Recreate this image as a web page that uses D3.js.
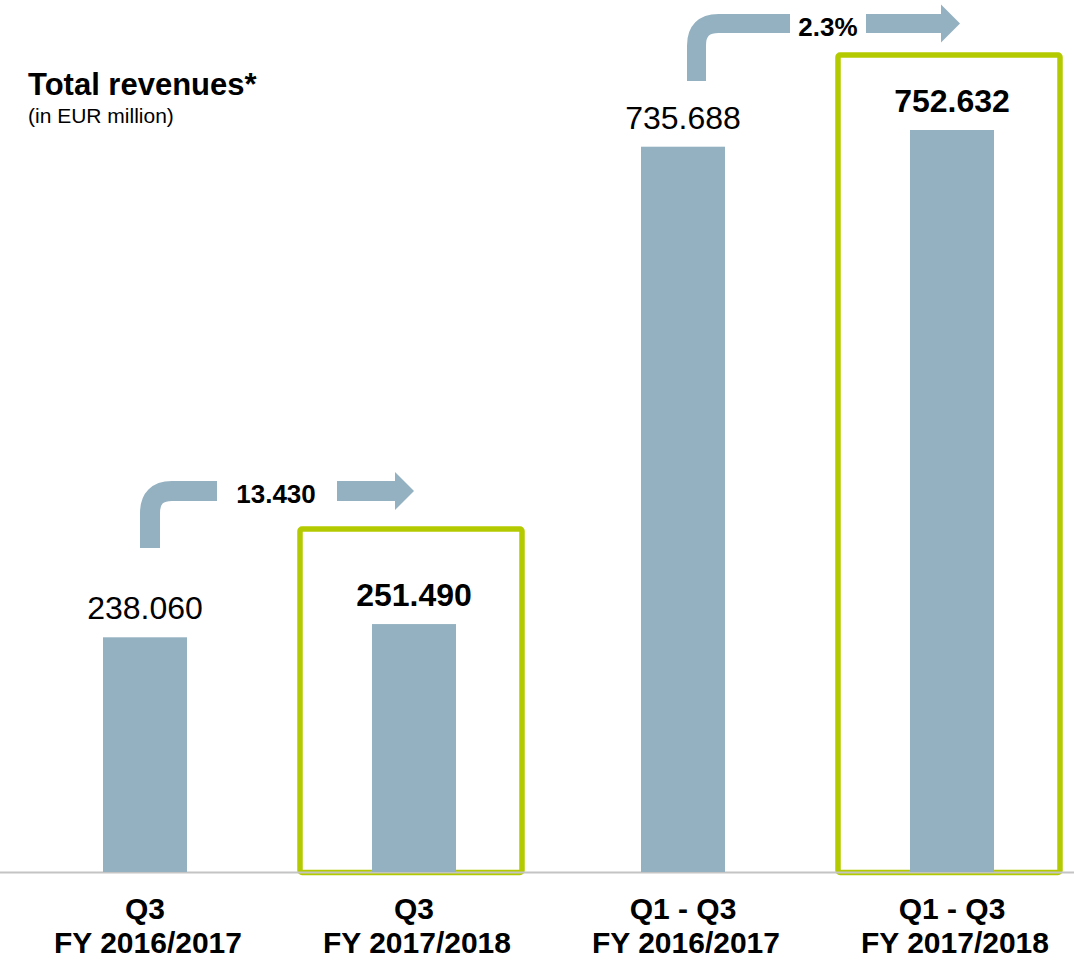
<!DOCTYPE html>
<html lang="en">
<head>
    <meta charset="UTF-8">
    <title>Total revenues</title>
    <script src="https://cdn.jsdelivr.net/npm/d3@7"></script>
    <style>
        body { margin: 0; background: #fff; }
        text { font-family: "Liberation Sans", Arial, sans-serif; fill: #000; }
    </style>
</head>
<body>
<svg width="1074" height="961"></svg>
<script>
    // data
    const periods = ["Q3", "Q3", "Q1 - Q3", "Q1 - Q3"]
    const years = ["FY 2016/2017", "FY 2017/2018", "FY 2016/2017", "FY 2017/2018"]
    const revenues = [238.060, 251.490, 735.688, 752.632]
    const valueLabels = ["238.060", "251.490", "735.688", "752.632"]
    const current = [false, true, false, true]
    const changeLabels = ["13.430", "2.3%"]   // from bar 0 -> 1, bar 2 -> 3

    const width = 1074, height = 961
    const baseY = 872
    const barColor = "#94b1c1"
    const boxColor = "#b4ca00"

    const svg = d3.select("svg")
    const keys = d3.range(revenues.length)

    const x = d3.scalePoint().domain(keys).range([10.5, 1086.5]).padding(0.5)
    const y = d3.scaleLinear().domain([0, 884.5]).range([baseY, 0])
    const barW = 84

    // highlight boxes around current-year bars
    const boxTopOffset = [0, 95, 0, 75]
    svg.append("g").selectAll("rect")
        .data(keys.filter(i => current[i]))
        .join("rect")
        .attr("x", i => x(i) - 114)
        .attr("width", 222)
        .attr("y", i => y(revenues[i]) - boxTopOffset[i])
        .attr("height", i => baseY + 0.5 - (y(revenues[i]) - boxTopOffset[i]))
        .attr("rx", 2)
        .attr("fill", "none")
        .attr("stroke", boxColor)
        .attr("stroke-width", 5.5)

    // baseline
    svg.append("line")
        .attr("x1", 0).attr("x2", width)
        .attr("y1", baseY + 0.5).attr("y2", baseY + 0.5)
        .attr("stroke", "#c4c4c4").attr("stroke-width", 2)

    // bars
    svg.append("g").selectAll("rect")
        .data(keys)
        .join("rect")
        .attr("x", i => x(i) - barW / 2)
        .attr("width", barW)
        .attr("y", i => y(revenues[i]))
        .attr("height", i => baseY - y(revenues[i]))
        .attr("fill", barColor)

    // value labels
    svg.append("g").selectAll("text")
        .data(keys)
        .join("text")
        .attr("x", i => x(i))
        .attr("y", i => y(revenues[i]) - 18)
        .attr("text-anchor", "middle")
        .attr("font-size", 32)
        .attr("font-weight", i => current[i] ? "bold" : "normal")
        .text(i => valueLabels[i])

    // category labels
    const cats = svg.append("g").selectAll("text")
        .data(keys)
        .join("text")
        .attr("text-anchor", "middle")
        .attr("font-size", 30)
        .attr("font-weight", "bold")
    cats.append("tspan").attr("x", i => x(i)).attr("y", 919).text(i => periods[i])
    cats.append("tspan").attr("x", i => x(i) + 3).attr("y", 953).text(i => years[i])

    // change arrows
    function changeArrow(g, from, label, bandY, bottomY, opts) {
        const x0 = x(from) + opts.dx
        const r = 22, sw = opts.sw
        g.append("path")
            .attr("d", `M${x0},${bottomY} V${bandY + r} Q${x0},${bandY} ${x0 + r},${bandY} H${opts.leftEnd}`)
            .attr("fill", "none").attr("stroke", barColor).attr("stroke-width", sw)
        g.append("path")
            .attr("d", `M${opts.rightStart},${bandY} H${opts.headX}`)
            .attr("fill", "none").attr("stroke", barColor).attr("stroke-width", sw)
        g.append("path")
            .attr("d", `M${opts.headX},${bandY - 19} L${opts.headX + 19},${bandY} L${opts.headX},${bandY + 19} Z`)
            .attr("fill", barColor)
        g.append("text")
            .attr("x", opts.textX).attr("y", bandY + 12)
            .attr("text-anchor", "middle")
            .attr("font-size", 26).attr("font-weight", "bold")
            .text(label)
    }
    changeArrow(svg.append("g"), 0, changeLabels[0], 491, 548,
        {dx: 5, sw: 20, leftEnd: 217, rightStart: 337, headX: 395, textX: 276})
    changeArrow(svg.append("g"), 2, changeLabels[1], 23.5, 81,
        {dx: 13.5, sw: 19, leftEnd: 790, rightStart: 866, headX: 941, textX: 828})

    // title
    svg.append("text").attr("x", 28).attr("y", 95)
        .attr("font-size", 31).attr("font-weight", "bold")
        .text("Total revenues*")
    svg.append("text").attr("x", 28).attr("y", 123)
        .attr("font-size", 21)
        .text("(in EUR million)")
</script>
</body>
</html>
